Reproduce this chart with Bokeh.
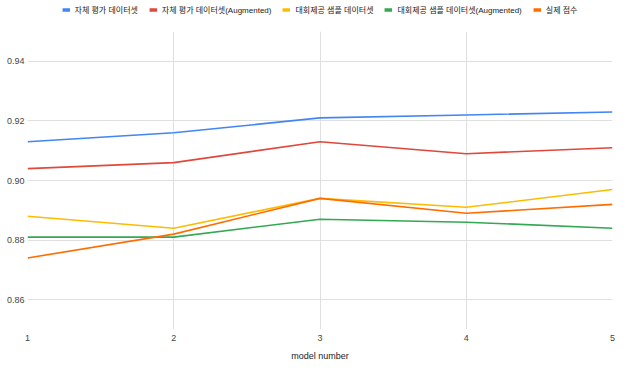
from bokeh.plotting import figure
from bokeh.layouts import column
from bokeh.models import Legend, LegendItem, Range1d, FixedTicker, CustomJSTickFormatter
from bokeh.embed import file_html
from bokeh.resources import INLINE

models = [1, 2, 3, 4, 5]
series_names = ["자체 평가 데이터셋", "자체 평가 데이터셋(Augmented)", "대회제공 샘플 데이터셋",
                "대회제공 샘플 데이터셋(Augmented)", "실제 점수"]
self_eval = [0.913, 0.916, 0.921, 0.922, 0.923]
self_eval_aug = [0.904, 0.906, 0.913, 0.909, 0.911]
sample = [0.888, 0.884, 0.894, 0.891, 0.897]
sample_aug = [0.881, 0.881, 0.887, 0.886, 0.884]
actual = [0.874, 0.882, 0.894, 0.889, 0.892]
y_ticks = [0.86, 0.88, 0.90, 0.92, 0.94]
x_label = "model number"

colors = ["#4285F4", "#E0483B", "#FBBC04", "#34A853", "#FF6D01"]
FONT = "'Liberation Sans', 'Noto Sans CJK KR', sans-serif"

# main chart
p = figure(width=630, height=362, output_backend="svg", toolbar_location=None,
           x_range=Range1d(1, 5), y_range=Range1d(0.85, 0.95),
           min_border_left=27, min_border_right=18, min_border_top=13, min_border_bottom=51)
p.outline_line_color = None
p.background_fill_color = "white"

series = [self_eval, self_eval_aug, sample, sample_aug, actual]
for name, vals, c in zip(series_names, series, colors):
    p.line(models, vals, line_color=c, line_width=1.6)

p.xaxis.ticker = FixedTicker(ticks=models)
p.yaxis.ticker = FixedTicker(ticks=y_ticks)
p.yaxis.formatter = CustomJSTickFormatter(code="return tick.toFixed(2);")

for ax in (p.xaxis[0], p.yaxis[0]):
    ax.axis_line_color = None
    ax.major_tick_line_color = None
    ax.minor_tick_line_color = None
    ax.major_tick_out = 0
    ax.major_tick_in = 0
    ax.minor_tick_out = 0
    ax.major_label_text_font = FONT
    ax.major_label_text_font_size = "9px"
    ax.major_label_text_color = "#444444"
p.yaxis.major_label_standoff = 3
p.xaxis.major_label_standoff = 5
p.xaxis.axis_label = x_label
p.xaxis.axis_label_text_font = FONT
p.xaxis.axis_label_text_font_size = "9px"
p.xaxis.axis_label_text_font_style = "normal"
p.xaxis.axis_label_text_color = "#222222"
p.xaxis.axis_label_standoff = 7

p.xgrid.grid_line_color = "#e0e0e0"
p.ygrid.grid_line_color = "#e0e0e0"
p.xgrid.grid_line_width = 1
p.ygrid.grid_line_width = 1

# legend strip: same series drawn thick, but outside the strip's visible range
lg = figure(width=630, height=18, output_backend="svg", toolbar_location=None,
            x_range=Range1d(1, 5), y_range=Range1d(0, 0.5),
            x_axis_location=None, y_axis_location=None,
            min_border_left=0, min_border_right=0, min_border_top=0, min_border_bottom=0)
lg.outline_line_color = None
lg.xgrid.visible = False
lg.ygrid.visible = False
items = []
for name, vals, c in zip(series_names, series, colors):
    proxy = lg.line(models, vals, line_color=c, line_width=3.5)
    items.append(LegendItem(label=name, renderers=[proxy]))
legend = Legend(items=items, orientation="horizontal", location="center",
                glyph_width=8, glyph_height=10, label_standoff=5, spacing=11,
                padding=0, margin=0, border_line_color=None, background_fill_alpha=0,
                label_text_font=FONT, label_text_font_size="8px", label_text_color="#222222",
                label_height=10)
lg.add_layout(legend, "center")

layout = column(lg, p, spacing=0)
open("out.html", "w").write(file_html(layout, INLINE))
